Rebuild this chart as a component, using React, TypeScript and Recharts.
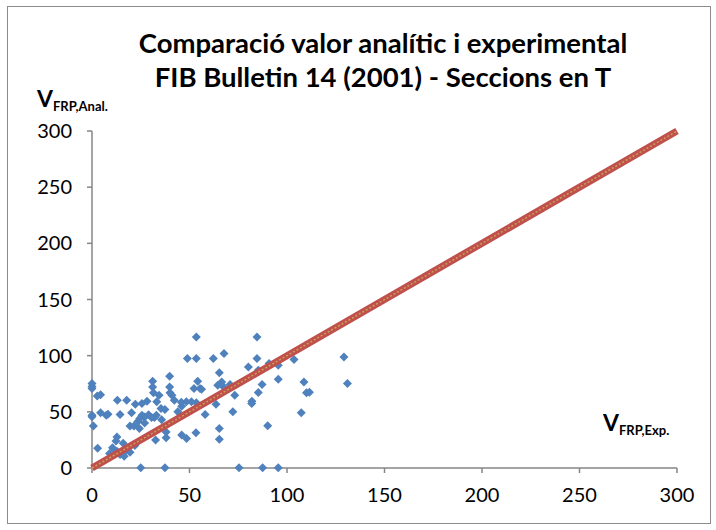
import React from "react";
import { ScatterChart, Scatter, XAxis, YAxis } from "recharts";

const expValues = [
  53.5, 84.6, 48.9, 53.5, 62.2, 67.7, 84.6, 129.2, 103.6, 90.8,
  95.5, 80.2, 85.3, 65.3, 39.8, 0, 0, 0, 2.7, 4.4,
  31.1, 31.1, 31.5, 34.4, 39.8, 40, 41, 54.2, 52.3, 55.4,
  64.5, 66.5, 95.5, 108.7, 131, 67.5, 70.8, 87.2, 56.2, 73.2,
  85.3, 110, 111.5, 13, 17.8, 22.2, 25.6, 28.2, 33.2, 35.4,
  42.2, 45.8, 48.4, 51, 53.5, 82, 81.9, 63.6, 58, 72.2,
  107.3, 0, 0, 0.7, 4.4, 7.3, 8.2, 14.4, 20.3, 25.6,
  24.5, 23.5, 27, 29, 19.5, 21.5, 24.3, 27, 30.5, 32,
  33, 35.7, 37.4, 46, 48.5, 53.3, 65.3, 65.3, 90.1, 32.6,
  38, 38, 12.8, 12.3, 2.9, 9, 12.8, 14.4, 16.5, 17.5,
  19.5, 25, 37.4, 75.4, 87.5, 95.5, 10.5, 22, 16, 44, 46,
];
const analValues = [
  116.6, 116.6, 97.4, 97.4, 97.4, 101.9, 97.4, 98.9, 96.5, 93,
  91.5, 90, 87, 84.7, 81.7, 75.2, 72.5, 70.8, 64, 65.1,
  77.3, 72, 67, 64.8, 72, 67, 64.8, 77.3, 70.8, 70.8,
  73.7, 76.6, 79, 76.6, 75.2, 72, 74.3, 74.3, 70, 64.8,
  67.2, 67, 67.5, 60.4, 60.4, 56.8, 57.4, 59.5, 58.9, 53,
  60.4, 58.5, 58.9, 58.9, 58, 59.5, 57.4, 56.8, 47.7, 50,
  49.1, 47, 45.6, 37.3, 49.1, 47, 47.8, 47.7, 49.1, 47,
  44, 41.5, 45.5, 47.5, 37.3, 37.3, 35.2, 40, 45, 45,
  47, 43, 52, 29.3, 26.3, 31.4, 35.2, 25.7, 37.6, 24.9,
  27, 32, 27.5, 24, 17.5, 13, 15, 12, 10.5, 16,
  14, 0.3, 0.3, 0.3, 0.3, 0.3, 18, 20, 22, 50, 55,
];

// y = x reference line
const lineX = [0, 300];
const ticks = [0, 50, 100, 150, 200, 250, 300];

const points = expValues.map((x, i) => ({ x, y: analValues[i] }));
const lineData = lineX.map((v) => ({ x: v, y: v }));

const FONT = "Lato, 'Open Sans', sans-serif";
const AXIS = "#868686";

const Diamond = (props: any) => {
  const { cx, cy } = props;
  if (cx == null || cy == null) return null;
  const r = 4.5;
  return (
    <path
      d={`M${cx},${cy - r}L${cx + r},${cy}L${cx},${cy + r}L${cx - r},${cy}Z`}
      fill="#4F81BD"
    />
  );
};

const NoDot = () => null;

export default function App() {
  return (
    <div
      style={{
        position: "absolute",
        left: 0,
        top: 0,
        width: 716,
        height: 530,
        background: "#fff",
        fontFamily: FONT,
      }}
    >
      <div
        style={{
          position: "absolute",
          left: 7,
          top: 6,
          width: 704,
          height: 518,
          border: "1px solid #8c8c8c",
          boxSizing: "border-box",
        }}
      >
        <ScatterChart
          width={702}
          height={516}
          margin={{ top: 124, right: 33, left: 0, bottom: 0 }}
        >
          <XAxis
            type="number"
            dataKey="x"
            domain={[0, 300]}
            ticks={ticks}
            height={55}
            tickSize={5}
            tickMargin={15}
            stroke={AXIS}
            strokeWidth={1.5}
            tick={{ fontSize: 20, fill: "#000", fontFamily: FONT }}
          />
          <YAxis
            type="number"
            dataKey="y"
            domain={[0, 300]}
            ticks={ticks}
            width={84}
            tickSize={5}
            tickMargin={15}
            stroke={AXIS}
            strokeWidth={1.5}
            tick={{ fontSize: 20, fill: "#000", fontFamily: FONT }}
          />
          <Scatter data={points} shape={<Diamond />} isAnimationActive={false} />
          <Scatter
            data={lineData}
            line={{ stroke: "#C0504D", strokeWidth: 7 }}
            shape={<NoDot />}
            isAnimationActive={false}
          />
          <Scatter
            data={lineData}
            line={{ stroke: "#C9A24E", strokeWidth: 1.5, strokeDasharray: "2 2" }}
            shape={<NoDot />}
            isAnimationActive={false}
          />
        </ScatterChart>
      </div>

      <div
        style={{
          position: "absolute",
          left: 0,
          width: 766,
          top: 26,
          textAlign: "center",
          fontWeight: 700,
          fontSize: 27.5,
          lineHeight: "34px",
          color: "#000",
        }}
      >
        Comparació valor analític i experimental
        <br />
        FIB Bulletin 14 (2001) - Seccions en T
      </div>

      <div
        style={{
          position: "absolute",
          left: 37,
          top: 84,
          fontWeight: 700,
          fontSize: 23,
          color: "#000",
          whiteSpace: "nowrap",
        }}
      >
        V<span style={{ fontSize: 13, verticalAlign: "-4px" }}>FRP,Anal.</span>
      </div>

      <div
        style={{
          position: "absolute",
          left: 603,
          top: 408,
          fontWeight: 700,
          fontSize: 23,
          color: "#000",
          whiteSpace: "nowrap",
        }}
      >
        V<span style={{ fontSize: 13, verticalAlign: "-4px" }}>FRP,Exp.</span>
      </div>
    </div>
  );
}
